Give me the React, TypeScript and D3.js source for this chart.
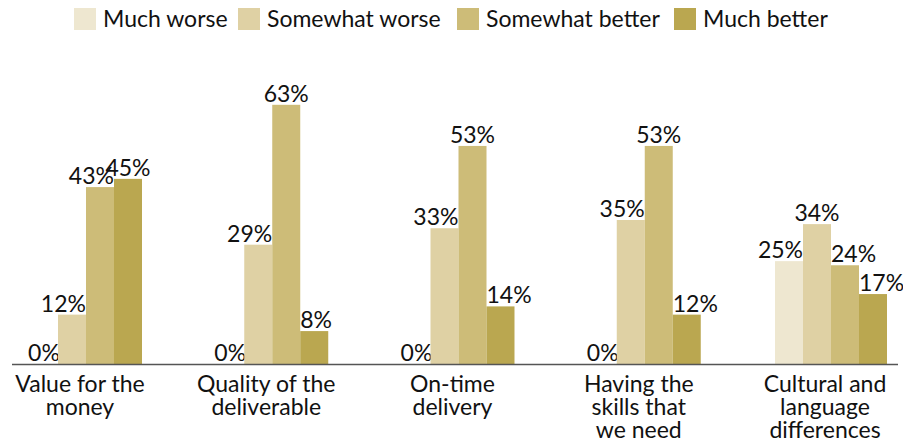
import React from "react";
import * as d3 from "d3";

const categories = [
  ["Value for the", "money"],
  ["Quality of the", "deliverable"],
  ["On-time", "delivery"],
  ["Having the", "skills that", "we need"],
  ["Cultural and", "language", "differences"],
];
const seriesNames = ["Much worse", "Somewhat worse", "Somewhat better", "Much better"];
const muchWorse = [0, 0, 0, 0, 25];
const somewhatWorse = [12, 29, 33, 35, 34];
const somewhatBetter = [43, 63, 53, 53, 24];
const muchBetter = [45, 8, 14, 12, 17];
const colors = ["#EEE7D0", "#DFD1A4", "#CDBC78", "#BAA750"];

const W = 903;
const H = 444;
const FONT = "Lato, 'Open Sans', sans-serif";
const legendX = [74, 238, 457, 674];

export default function App() {
  const series = [muchWorse, somewhatWorse, somewhatBetter, muchBetter];
  const keys = categories.map((c) => c.join(" "));
  const x = d3.scaleBand<string>().domain(keys).range([30, 887]).paddingInner(1 - 112 / 186.26).paddingOuter(0);
  const xi = d3.scaleBand<string>().domain(seriesNames).range([0, x.bandwidth()]).padding(0);
  const y = d3.scaleLinear().domain([0, 70]).range([364, 76]);
  const base = y(0);

  return (
    <svg width={W} height={H} style={{ position: "absolute", left: 0, top: 0, background: "#fff" }} fontFamily={FONT}>
      {seriesNames.map((s, i) => (
        <g key={s}>
          <rect x={legendX[i]} y={8} width={22} height={22} fill={colors[i]} />
          <text x={legendX[i] + 29} y={27} fontSize={23} fill="#111">{s}</text>
        </g>
      ))}
      {keys.map((k, ci) => (
        <g key={k} transform={`translate(${x(k)},0)`}>
          {seriesNames.map((s, si) => {
            const v = series[si][ci];
            const bx = xi(s)!;
            const bw = xi.bandwidth();
            const top = y(v);
            const left = si > 0 ? series[si - 1][ci] : -1;
            const right = si < series.length - 1 ? series[si + 1][ci] : -1;
            let anchor: "start" | "middle" | "end" = "middle";
            let tx = bx + bw / 2;
            if (v > 0) {
              if (right > v) { anchor = "end"; tx = bx + bw; }
              else if (left > v) { anchor = "start"; tx = bx; }
            }
            return (
              <g key={s}>
                {v > 0 && <rect x={bx} y={top} width={bw} height={base - top} fill={colors[si]} />}
                <text x={tx} y={top - 3} textAnchor={anchor} fontSize={23} fill="#111">{v}%</text>
              </g>
            );
          })}
          {categories[ci].map((line, li) => (
            <text key={li} x={x.bandwidth() / 2 - 6} y={392 + li * 23} textAnchor="middle" fontSize={23} fill="#111">{line}</text>
          ))}
        </g>
      ))}
      <line x1={12} x2={898} y1={base + 0.5} y2={base + 0.5} stroke="#555" strokeWidth={1.5} />
    </svg>
  );
}
